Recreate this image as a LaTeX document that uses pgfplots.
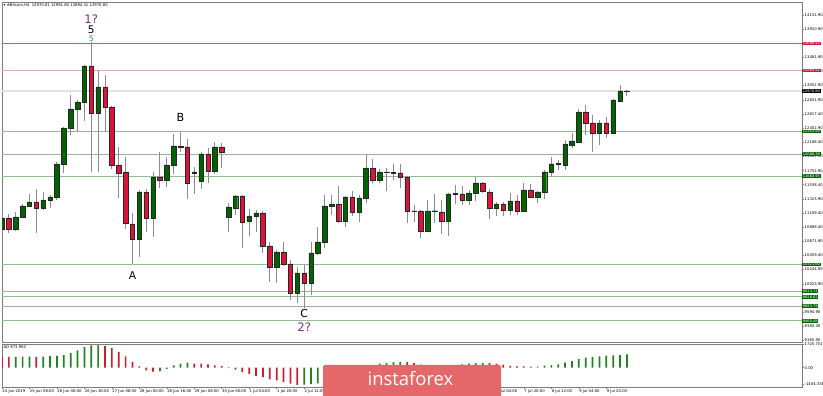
\documentclass[border=0pt]{standalone}
\usepackage{pgfplots}
\pgfplotsset{compat=1.18}
\usepackage{pgfplotstable}
\usepackage{fontspec}
\setmainfont{DejaVu Sans}
\newfontfamily\logofont{Open Sans}
\definecolor{cgreen}{RGB}{0,100,0}
\definecolor{cred}{RGB}{220,20,60}
\definecolor{wick}{RGB}{140,140,140}
\definecolor{framec}{RGB}{125,125,125}
\definecolor{lvgreen}{RGB}{150,185,150}
\definecolor{lvredA}{RGB}{195,95,120}
\definecolor{lvredB}{RGB}{224,175,190}
\definecolor{lvgray}{RGB}{226,226,226}
\definecolor{boxgreen}{RGB}{0,100,0}
\definecolor{boxred}{RGB}{205,25,60}
\definecolor{aogreen}{RGB}{34,130,34}
\definecolor{aored}{RGB}{200,30,45}
\definecolor{wavepurple}{RGB}{112,48,140}
\definecolor{wavegreen}{RGB}{60,135,60}
\definecolor{bannerc}{RGB}{228,104,106}

\pgfplotstableread{
i o h l c
0 10862.0 11106.5 10800.9 11030.1
1 11030.1 11091.2 10800.9 10862.0
2 10862.0 11121.7 10831.4 11045.3
3 11045.3 11244.0 11030.1 11213.4
4 11213.4 11396.8 11198.1 11274.5
5 11274.5 11473.2 10800.9 11182.9
6 11182.9 11427.3 11152.3 11305.1
7 11305.1 11381.5 11182.9 11350.9
8 11350.9 11885.7 11305.1 11855.2
9 11855.2 12420.5 11717.7 12405.3
10 12405.3 12909.5 12298.3 12695.6
11 12695.6 12833.1 12344.1 12802.5
12 12802.5 13367.9 12512.2 13352.6
13 13352.6 13719.3 11733.0 12634.5
14 12634.5 13291.5 11733.0 13031.9
15 13031.9 13215.1 12344.1 12726.1
16 12726.1 12741.4 11778.8 11839.9
17 11839.9 12115.0 11335.7 11717.7
18 11733.0 11962.1 10862.0 10953.7
19 10938.4 11106.5 10327.2 10709.2
20 10709.2 11457.9 10434.1 11427.3
21 11427.3 11473.2 10816.1 11030.1
22 11030.1 11733.0 10739.7 11656.5
23 11656.5 12038.5 11488.5 11610.7
24 11610.7 11962.1 11503.7 11839.9
25 11839.9 12313.6 11702.4 12130.2
26 12130.2 12344.1 12038.5 12107.3
27 12115.0 12237.2 11320.4 11564.9
28 11717.7 11809.3 11396.8 11733.0
29 11595.4 12038.5 11473.2 12008.0
30 12008.0 12099.7 11564.9 11748.2
31 11748.2 12191.4 11702.4 12115.0
32 12115.0 12176.1 11794.1 12038.5
33 11045.3 11259.3 10816.1 11198.1
34 11182.9 11381.5 11075.9 11366.2
35 11366.2 11381.5 10571.7 10968.9
36 10984.2 11167.6 10755.0 11060.6
37 11060.6 11152.3 10816.1 11106.5
38 11106.5 11137.0 10495.3 10602.2
39 10602.2 10663.3 10052.1 10281.3
40 10281.3 10541.1 10036.9 10510.5
41 10510.5 10663.3 10296.6 10327.2
42 10327.2 10388.3 9777.1 9884.1
43 9884.1 10281.3 9731.3 10189.7
44 10189.7 10311.9 9654.9 10036.9
45 10036.9 10663.3 9853.5 10495.3
46 10495.3 10892.5 10464.7 10663.3
47 10663.3 11381.5 10571.7 11213.4
48 11213.4 11381.5 11075.9 11244.0
49 11244.0 11519.0 10953.7 10984.2
50 10984.2 11366.2 10892.5 11350.9
51 11350.9 11442.6 11060.6 11121.7
52 11121.7 11381.5 10968.9 11335.7
53 11335.7 12008.0 11259.3 11794.1
54 11794.1 11931.6 11564.9 11610.7
55 11610.7 11778.8 11564.9 11733.0
56 11729.0 11794.1 11442.6 11733.0
57 11717.7 11855.2 11610.7 11724.0
58 11717.7 11855.2 11488.5 11656.5
59 11656.5 11671.8 10953.7 11137.0
60 11137.0 11228.7 10968.9 11132.0
61 11137.0 11152.3 10724.5 10831.4
62 10831.4 11305.1 10816.1 11137.0
63 11137.0 11396.8 10953.7 11141.0
64 11121.7 11305.1 10785.6 10984.2
65 10984.2 11412.1 10755.0 11396.8
66 11396.8 11534.3 11244.0 11401.0
67 11396.8 11519.0 11228.7 11305.1
68 11305.1 11457.9 11228.7 11412.1
69 11412.1 11656.5 11289.8 11564.9
70 11564.9 11580.1 11412.1 11442.6
71 11427.3 11473.2 11014.8 11182.9
72 11182.9 11274.5 11060.6 11244.0
73 11244.0 11274.5 11060.6 11152.3
74 11152.3 11412.1 11075.9 11289.8
75 11289.8 11381.5 11075.9 11137.0
76 11137.0 11564.9 11121.7 11457.9
77 11457.9 11549.6 11335.7 11350.9
78 11350.9 11442.6 11259.3 11427.3
79 11427.3 11763.5 11320.4 11733.0
80 11733.0 11962.1 11671.8 11855.2
81 11855.2 11916.3 11763.5 11860.0
82 11839.9 12221.9 11763.5 12160.8
83 12145.5 12328.9 12099.7 12206.6
84 12191.4 12695.6 12191.4 12649.7
85 12649.7 12756.7 12298.3 12481.7
86 12481.7 12603.9 12038.5 12328.9
87 12328.9 12527.5 12145.5 12481.7
88 12481.7 12573.3 12252.5 12328.9
89 12328.9 12848.4 12313.6 12833.1
90 12817.8 13062.3 12802.5 12970.6
91 12970.81 12991.80 12894.31 12970.80
}\candles

\newcommand{\tinyf}{\fontsize{3.8}{4.4}\selectfont}
\newcommand{\boxf}{\fontsize{3.6}{4}\selectfont}

\begin{document}
\begin{tikzpicture}
\path[use as bounding box] (0,0) rectangle (823bp,396bp);

% ---------------- main price panel: frame, ticks, levels, wicks
\begin{axis}[
  at={(2bp,54bp)}, anchor=south west,
  scale only axis, width=800bp, height=340bp,
  xmin=0, xmax=116.5, ymin=9135.3, ymax=14330.5,
  scaled x ticks=false, scaled y ticks=false,
  axis line style={draw=framec, line width=0.8bp},
  xtick=\empty,
  ytick pos=right, yticklabel pos=right,
  ytick align=outside, major tick length=2bp,
  tick style={draw=framec, line width=0.5bp},
  ytick={14131.9,13910.9,13481.9,13267.4,13052.9,12831.9,12617.4,12402.9,12188.4,11967.9,11752.9,11538.4,11323.9,11109.4,10888.4,10671.9,10459.4,10244.9,10023.9,9594.9,9380.4,9165.9},
  yticklabels={14131.90,13910.90,13481.90,13267.40,13052.90,12831.90,12617.40,12402.90,12188.40,11967.90,11752.90,11538.40,11323.90,11109.40,10888.40,10671.90,10459.40,10244.90,10023.90,9594.90,9380.40,9165.90},
  yticklabel style={font=\tinyf, anchor=west, inner sep=0pt, xshift=0.5bp},
  clip mode=individual,
]
% level lines
\addplot[lvredA, line width=0.8bp] coordinates {(0,13696.45) (116.5,13696.45)};
\addplot[lvredB, line width=1.4bp] coordinates {(0,13283.52) (116.5,13283.52)};
\addplot[lvgray, line width=1.8bp] coordinates {(0,12970.80) (116.5,12970.80)};
\addplot[lvgreen, line width=1bp] coordinates {(0,12351.58) (116.5,12351.58)};
\addplot[lvgreen, line width=1bp] coordinates {(0,12006.38) (116.5,12006.38)};
\addplot[lvgreen, line width=1bp] coordinates {(0,11668.95) (116.5,11668.95)};
\addplot[lvgreen, line width=1bp] coordinates {(0,10321.60) (116.5,10321.60)};
\addplot[lvgreen, line width=1bp] coordinates {(0,9913.73) (116.5,9913.73)};
\addplot[lvgreen, line width=1bp] coordinates {(0,9826.62) (116.5,9826.62)};
\addplot[lvgreen, line width=1bp] coordinates {(0,9683.79) (116.5,9683.79)};
\addplot[lvgreen, line width=1bp] coordinates {(0,9460.48) (116.5,9460.48)};
% wicks
\addplot[draw=none, mark=none, error bars/.cd, y dir=plus, y explicit, error mark=none,
  error bar style={draw=wick, line width=0.9bp, solid}]
  table[x=i, y=l, y error expr=\thisrow{h}-\thisrow{l}] \candles;
% level value boxes
\tikzset{lvbox/.style={anchor=west, text=white, inner xsep=0.7bp, inner ysep=0.5bp, font=\boxf, text height=2.7bp, text depth=0pt}}
\node[lvbox, fill=boxred] at (axis cs:116.5,13696.45) {13696.45};
\node[lvbox, fill=boxred] at (axis cs:116.5,13283.52) {13283.52};
\node[lvbox, fill=black] at (axis cs:116.5,12970.80) {12970.80};
\node[lvbox, fill=boxgreen] at (axis cs:116.5,12351.58) {12351.58};
\node[lvbox, fill=boxgreen] at (axis cs:116.5,12006.38) {12006.38};
\node[lvbox, fill=boxgreen] at (axis cs:116.5,11668.95) {11668.95};
\node[lvbox, fill=boxgreen] at (axis cs:116.5,10321.60) {10321.60};
\node[lvbox, fill=boxgreen] at (axis cs:116.5,9913.73) {9913.73};
\node[lvbox, fill=boxgreen] at (axis cs:116.5,9826.62) {9826.62};
\node[lvbox, fill=boxgreen] at (axis cs:116.5,9683.79) {9683.79};
\node[lvbox, fill=boxgreen] at (axis cs:116.5,9460.48) {9460.48};
% title
\node[anchor=north west, inner sep=0pt, font=\tinyf] at (rel axis cs:0,1) [xshift=1.5bp, yshift=-1.6bp]
  {▾ \#Bitcoin,H4\ \ 12970.81 12991.80 12894.31 12970.80};
\end{axis}

% ---------------- candle bodies
\begin{axis}[
  at={(2bp,54bp)}, anchor=south west,
  scale only axis, width=800bp, height=340bp,
  xmin=0, xmax=116.5, ymin=9135.3, ymax=14330.5,
  scaled x ticks=false, scaled y ticks=false,
  hide axis, ybar stacked, bar width=4.5bp,
  clip mode=individual,
]
\addplot[draw=none, fill=none] table[x=i, y expr={min(\thisrow{o},\thisrow{c})}] \candles;
\addplot[draw=black!85, fill=cgreen, line width=0.45bp] table[x=i, y expr={max(\thisrow{c}-\thisrow{o},0)}] \candles;
\addplot[draw=black!85, fill=cred, line width=0.45bp] table[x=i, y expr={max(\thisrow{o}-\thisrow{c},0)}] \candles;
% wave labels
\node[font=\fontsize{11.7}{12}\selectfont, text=wavepurple, inner sep=0pt] at (axis cs:13,14063) {1?};
\node[font=\fontsize{10.5}{11}\selectfont, text=black, inner sep=0pt] at (axis cs:13,13910) {5};
\node[font=\fontsize{7.8}{8}\selectfont, text=wavegreen, inner sep=0pt] at (axis cs:13,13765) {5};
\node[font=\fontsize{11.2}{12}\selectfont, text=black, inner sep=0pt] at (axis cs:26,12566) {B};
\node[font=\fontsize{10.8}{11}\selectfont, text=black, inner sep=0pt] at (axis cs:19,10151) {A};
\node[font=\fontsize{11}{12}\selectfont, text=black, inner sep=0pt] at (axis cs:44,9563) {C};
\node[font=\fontsize{11.7}{12}\selectfont, text=wavepurple, inner sep=0pt] at (axis cs:44,9357) {2?};
\end{axis}

% ---------------- AO panel
\begin{axis}[
  at={(2bp,9bp)}, anchor=south west,
  scale only axis, width=800bp, height=43bp,
  xmin=0, xmax=116.5, ymin=-1404.331, ymax=1725.751,
  scaled x ticks=false, scaled y ticks=false,
  axis line style={draw=framec, line width=0.8bp},
  tick style={draw=framec, line width=0.5bp},
  major tick length=2bp,
  xtick={0,4,...,88}, xtick pos=bottom, xtick align=outside,
  xticklabels={24 Jun 2019,25 Jun 08:00,26 Jun 00:00,26 Jun 16:00,27 Jun 08:00,28 Jun 00:00,28 Jun 16:00,29 Jun 08:00,30 Jun 00:00,1 Jul 04:00,1 Jul 20:00,2 Jul 12:00,3 Jul 04:00,3 Jul 20:00,4 Jul 12:00,5 Jul 04:00,5 Jul 20:00,6 Jul 12:00,7 Jul 04:00,7 Jul 20:00,8 Jul 12:00,9 Jul 04:00,9 Jul 20:00},
  xticklabel style={font=\tinyf, anchor=north west, inner sep=0pt, xshift=0.3bp, yshift=-0.3bp},
  ytick={1725.751,0,-1186}, yticklabels={1725.751,0.00,-1404.331},
  ytick pos=right, yticklabel pos=right, ytick align=outside,
  yticklabel style={font=\tinyf, anchor=west, inner sep=0pt, xshift=0.5bp},
  clip mode=individual,
]
\addplot[ybar, bar shift=0pt, bar width=1.7bp, fill=aogreen, draw=none] coordinates {
(2,790) (3,800) (4,805) (6,800) (7,840) (8,870) (9,920) (10,1060) (11,1260) (12,1500) (13,1620) (14,1640)
(23,-240) (24,-80) (25,170) (26,290) (27,364)
(44,-1230) (45,-1190) (46,-1140) (47,-1030) (48,-880) (49,-720) (50,-540) (51,-360) (52,-180) (53,20) (54,170) (55,290) (56,360) (57,410) (58,430)
(65,80) (66,160) (67,240) (68,300) (69,340) (70,360)
(79,145) (80,195) (81,245) (82,365) (83,485) (84,630) (85,730) (86,780) (87,825) (88,875) (89,900) (90,915) (91,974)};
\addplot[ybar, bar shift=0pt, bar width=1.7bp, fill=aored, draw=none] coordinates {
(0,800) (1,780) (5,795) (15,1580) (16,1430) (17,1150) (18,820) (19,420) (20,100) (21,-200) (22,-290)
(28,300) (29,290) (30,240) (31,170) (32,120) (33,40) (34,-145) (35,-320) (36,-440) (37,-600) (38,-690) (39,-850) (40,-930) (41,-1050) (42,-1160) (43,-1250)
(59,400) (60,330) (61,230) (62,130) (63,60) (64,30)
(71,345) (72,300) (73,218) (74,125) (75,100) (76,90) (77,85) (78,80)};
\node[anchor=north west, inner sep=0pt, font=\tinyf] at (rel axis cs:0,1) [xshift=1.5bp, yshift=-1.6bp] {AO 973.950};
\end{axis}

% ---------------- watermark banner
\fill[bannerc, rounded corners=1.5bp] (323bp,-2bp) rectangle (501bp,31bp);
\node[anchor=base, text=white, inner sep=0pt, font=\logofont\fontsize{18.5}{19}\selectfont] at (410.5bp,11bp) {instaforex};
\end{tikzpicture}
\end{document}
